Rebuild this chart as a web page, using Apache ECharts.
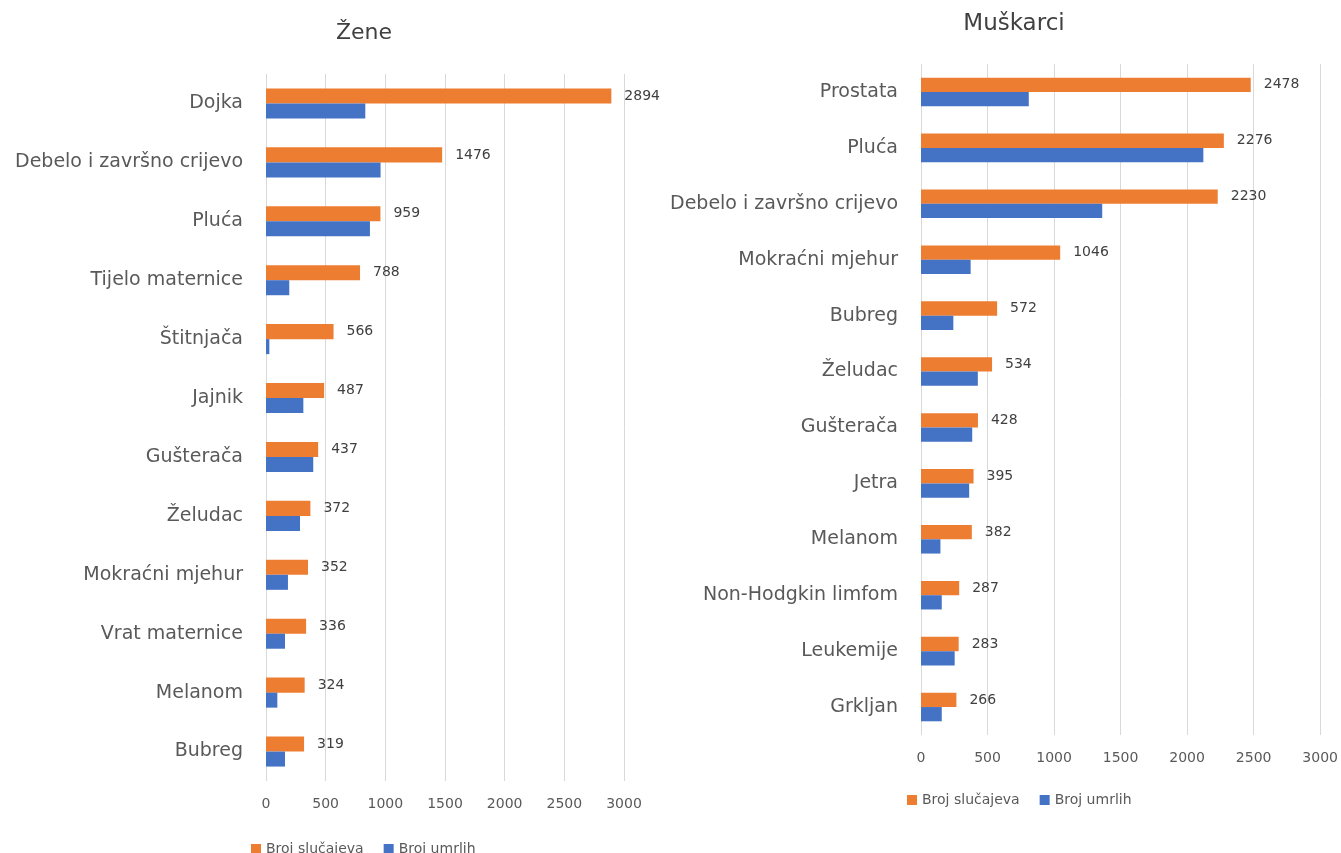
<!DOCTYPE html>
<html>
<head>
<meta charset="utf-8">
<script src="https://cdn.jsdelivr.net/npm/echarts@6/dist/echarts.min.js"></script>
<style>
  html, body { margin: 0; padding: 0; background: #fff; }
  #chart { width: 1341px; height: 853px; }
</style>
</head>
<body>
<div id="chart"></div>
<script>
// Žene
const zeneCategories = ['Dojka', 'Debelo i završno crijevo', 'Pluća', 'Tijelo maternice', 'Štitnjača', 'Jajnik', 'Gušterača', 'Želudac', 'Mokraćni mjehur', 'Vrat maternice', 'Melanom', 'Bubreg']
const zeneSlucajevi = [2894, 1476, 959, 788, 566, 487, 437, 372, 352, 336, 324, 319]
const zeneUmrli = [832, 960, 871, 195, 28, 313, 396, 285, 184, 159, 95, 159]

// Muškarci
const muskarciCategories = ['Prostata', 'Pluća', 'Debelo i završno crijevo', 'Mokraćni mjehur', 'Bubreg', 'Želudac', 'Gušterača', 'Jetra', 'Melanom', 'Non-Hodgkin limfom', 'Leukemije', 'Grkljan']
const muskarciSlucajevi = [2478, 2276, 2230, 1046, 572, 534, 428, 395, 382, 287, 283, 266]
const muskarciUmrli = [810, 2122, 1362, 373, 243, 427, 385, 362, 146, 156, 253, 156]

const valueTicks = [0, 500, 1000, 1500, 2000, 2500, 3000]

const FONT = 'DejaVu Sans'
const ORANGE = '#ED7D31'
const BLUE = '#4472C4'

function xAxisFor (gridIndex) {
  return {
    gridIndex: gridIndex,
    type: 'value',
    min: valueTicks[0],
    max: valueTicks[valueTicks.length - 1],
    interval: 500,
    axisLine: { show: false },
    axisTick: { show: false },
    axisLabel: {
      color: '#595959', fontSize: 14, fontFamily: FONT, margin: 16,
      formatter: v => String(v)
    },
    splitLine: { show: true, lineStyle: { color: '#d9d9d9', width: 1 } }
  }
}

function yAxisFor (gridIndex, cats) {
  return {
    gridIndex: gridIndex,
    type: 'category',
    inverse: true,
    data: cats,
    axisLine: { show: false },
    axisTick: { show: false },
    axisLabel: { color: '#595959', fontSize: 19, fontFamily: FONT, margin: 23 }
  }
}

function barsFor (idx, cases, deaths) {
  return [
    {
      name: 'Broj slučajeva',
      type: 'bar',
      xAxisIndex: idx,
      yAxisIndex: idx,
      data: cases,
      itemStyle: { color: ORANGE },
      barGap: '0%',
      barCategoryGap: '49%',
      label: {
        show: true,
        position: 'right',
        distance: 13,
        color: '#404040',
        fontSize: 14,
        fontFamily: FONT
      }
    },
    {
      name: 'Broj umrlih',
      type: 'bar',
      xAxisIndex: idx,
      yAxisIndex: idx,
      data: deaths,
      itemStyle: { color: BLUE },
      barGap: '0%',
      barCategoryGap: '49%'
    }
  ]
}

const legendStyle = {
  data: ['Broj slučajeva', 'Broj umrlih'],
  itemWidth: 10, itemHeight: 10, itemGap: 20,
  icon: 'rect',
  textStyle: { color: '#595959', fontSize: 14, fontFamily: FONT }
}

const chart = echarts.init(document.getElementById('chart'))
chart.setOption({
  animation: false,
  backgroundColor: '#fff',
  title: [
    { text: 'Žene', left: 359, top: 17, textAlign: 'center', textStyle: { fontSize: 22, fontWeight: 'normal', color: '#404040', fontFamily: FONT } },
    { text: 'Muškarci', left: 1009, top: 8, textAlign: 'center', textStyle: { fontSize: 23, fontWeight: 'normal', color: '#404040', fontFamily: FONT } }
  ],
  legend: [
    Object.assign({ left: 246, top: 837 }, legendStyle),
    Object.assign({ left: 902, top: 788 }, legendStyle)
  ],
  grid: [
    { left: 266, top: 74, width: 358, height: 707 },
    { left: 921, top: 64, width: 402, height: 671 }
  ],
  xAxis: [xAxisFor(0), xAxisFor(1)],
  yAxis: [yAxisFor(0, zeneCategories), yAxisFor(1, muskarciCategories)],
  series: barsFor(0, zeneSlucajevi, zeneUmrli).concat(barsFor(1, muskarciSlucajevi, muskarciUmrli))
})
</script>
</body>
</html>
